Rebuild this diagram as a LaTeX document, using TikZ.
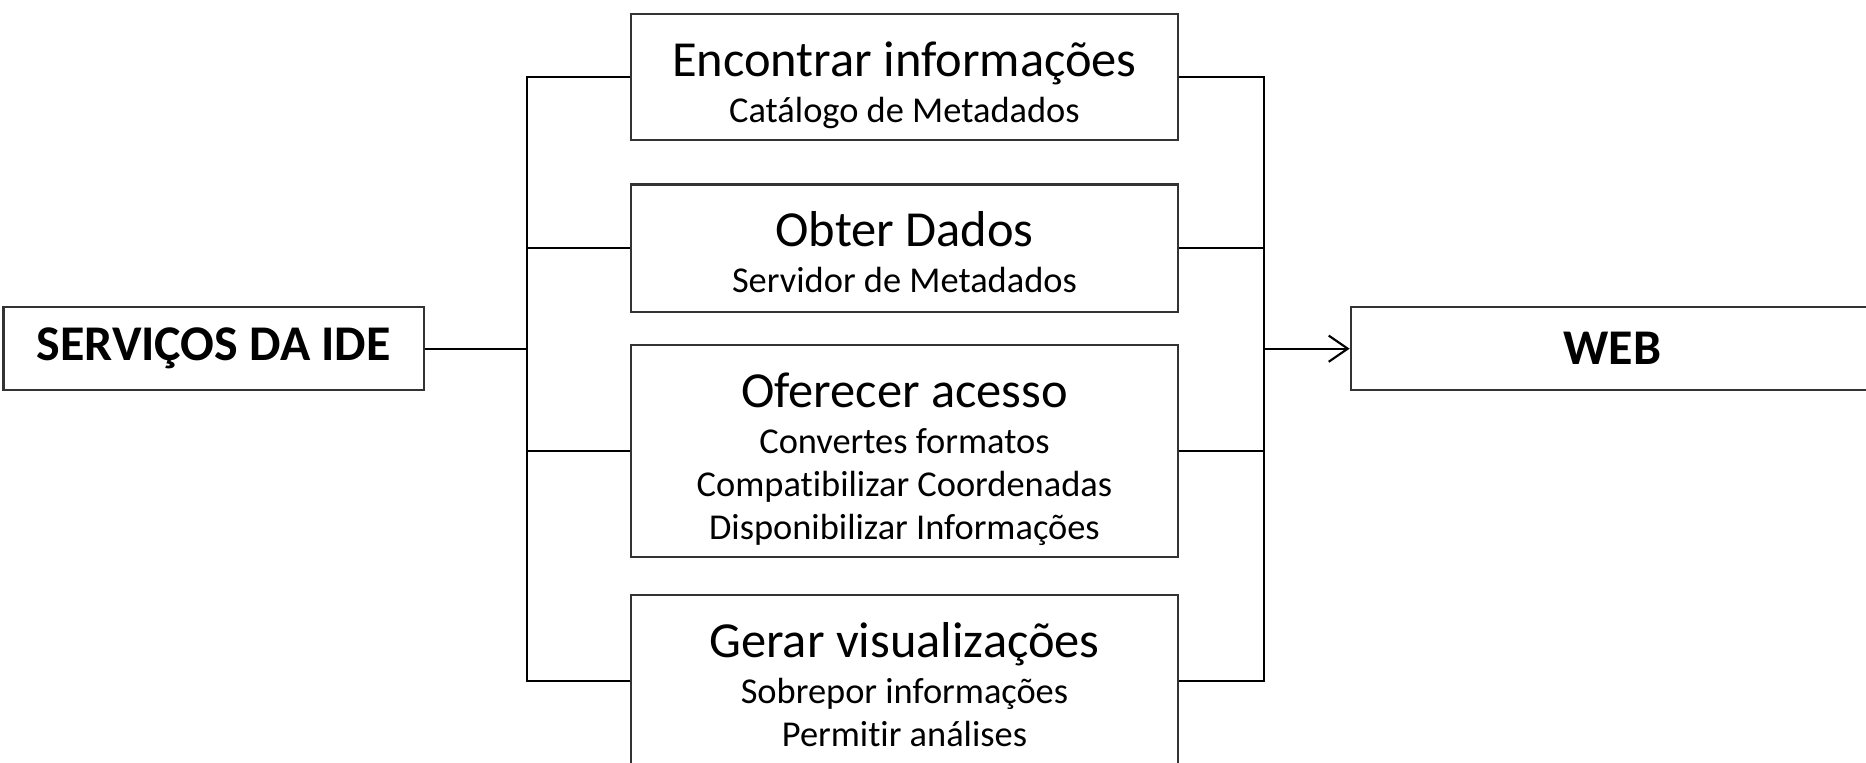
\documentclass[tikz,border=0pt]{standalone}
\usepackage{fontspec}
\setmainfont{Carlito}[Ligatures=NoCommon]
\usetikzlibrary{arrows.meta}
\newcommand{\titulo}[1]{{\fontsize{21.2}{18}\selectfont\rule{0pt}{17pt}#1}\\[1.5pt]}

\begin{document}
\begin{tikzpicture}[x=0.5pt,y=-0.5pt,
  caixa/.style={draw=black!80,line width=0.9pt,rectangle,inner sep=0pt,
    minimum width=460*0.5pt},
  texto/.style={anchor=north,inner sep=0pt,align=center,
    font=\fontsize{15.3}{18}\selectfont},
  rotulo/.style={draw=black!80,line width=0.9pt,rectangle,inner sep=0pt,
    minimum height=70*0.5pt,font=\fontsize{21}{24}\selectfont\bfseries},
  liga/.style={line width=0.9pt}]
\useasboundingbox (0,0) rectangle (1568,641);
\node[rotulo,minimum width=353*0.5pt] (serv) at (179.5,293) {SERVIÇOS DA IDE};
\node[rotulo,minimum width=440*0.5pt] (web) at (1355,293) {WEB};
\node[caixa,minimum height=106*0.5pt] (enc) at (760,65) {};
\node[caixa,minimum height=107*0.5pt] (obt) at (760,208.5) {};
\node[caixa,minimum height=178*0.5pt] (ofe) at (760,379) {};
\node[caixa,minimum height=145*0.5pt] (ger) at (760,572.5) {};
\node[texto] (encT) at ([yshift=-9.3pt]enc.north)
  {\titulo{Encontrar informações}Catálogo de Metadados};
\node[texto] (obtT) at ([yshift=-9.3pt]obt.north)
  {\titulo{Obter Dados}Servidor de Metadados};
\node[texto] (ofeT) at ([yshift=-9.3pt]ofe.north)
  {\titulo{Oferecer acesso}Convertes formatos\\Compatibilizar Coordenadas\\
   Disponibilizar Informações};
\node[texto] (gerT) at ([yshift=-9.3pt]ger.north)
  {\titulo{Gerar visualizações}Sobrepor informações\\Permitir análises};
\coordinate (lb) at (443,293);
\coordinate (rb) at (1062,293);
\draw[liga] (serv) -- (lb);
\draw[liga] (enc.west) -| (lb) |- (ger.west);
\draw[liga] (enc.east) -| (rb) |- (ger.east);
\foreach \n in {obt,ofe}
  \draw[liga] (\n.west) -- (\n.west -| lb) (\n.east) -- (\n.east -| rb);
\draw[liga,-{Straight Barb[length=8pt,width=11pt]}] (rb) -- (web);
\end{tikzpicture}
\end{document}
